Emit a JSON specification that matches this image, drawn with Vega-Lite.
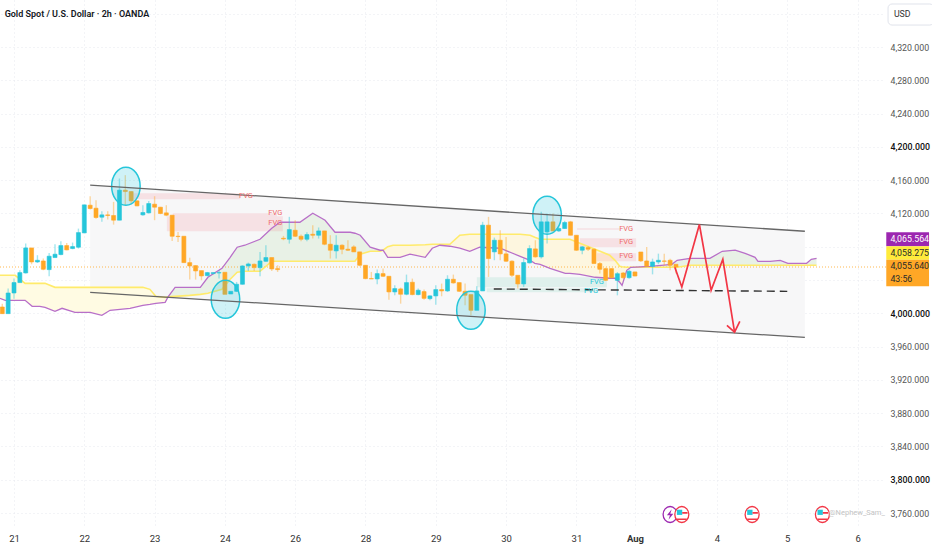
{
  "$schema": "https://vega.github.io/schema/vega-lite/v6.json",
  "width": 882,
  "height": 525,
  "autosize": {"type": "none"},
  "padding": {"left": 0, "top": 0, "right": 50, "bottom": 25},
  "background": "#ffffff",
  "view": {"stroke": null},
  "config": {"font": "Roboto"},
  "resolve": {"scale": {"color": "independent"}},
  "datasets": {
    "channelFill": [
      {"i": 13, "v": 4154, "v2": 4025.2},
      {"i": 135, "v": 4098.6, "v2": 3971.1}
    ],
    "channelLines": [
      {"i": 13, "v": 4154, "line": "top"},
      {"i": 135, "v": 4098.6, "line": "top"},
      {"i": 13, "v": 4025.2, "line": "bottom"},
      {"i": 135, "v": 3971.1, "line": "bottom"}
    ],
    "dashed": [
      {"i": 81.9, "v": 4029.2},
      {"i": 132, "v": 4026.4}
    ],
    "cloud": [
      {"i": -2.4, "v": 4018, "v2": 4045.7, "seg": "y1"},
      {"i": -1.5, "v": 4015.6, "v2": 4045.7, "seg": "y1"},
      {"i": 0.2, "v": 4015.6, "v2": 4045.7, "seg": "y1"},
      {"i": 1.9, "v": 4015.6, "v2": 4036, "seg": "y1"},
      {"i": 3.1, "v": 4008.4, "v2": 4036, "seg": "y1"},
      {"i": 4.4, "v": 4008.4, "v2": 4036, "seg": "y1"},
      {"i": 5.3, "v": 4007.2, "v2": 4036, "seg": "y1"},
      {"i": 7, "v": 4002.4, "v2": 4031.2, "seg": "y1"},
      {"i": 8.2, "v": 4006, "v2": 4031.2, "seg": "y1"},
      {"i": 10.4, "v": 4001.2, "v2": 4031.2, "seg": "y1"},
      {"i": 13, "v": 4001.2, "v2": 4031.2, "seg": "y1"},
      {"i": 15, "v": 3997.6, "v2": 4031.2, "seg": "y1"},
      {"i": 16.4, "v": 4003.6, "v2": 4031.2, "seg": "y1"},
      {"i": 18.1, "v": 4004.8, "v2": 4031.2, "seg": "y1"},
      {"i": 19.8, "v": 4006, "v2": 4031.2, "seg": "y1"},
      {"i": 22, "v": 4009.6, "v2": 4031.2, "seg": "y1"},
      {"i": 23.2, "v": 4010.8, "v2": 4028.8, "seg": "y1"},
      {"i": 24.2, "v": 4012, "v2": 4020.4, "seg": "y1"},
      {"i": 25.8, "v": 4013.2, "v2": 4019.2, "seg": "y1"},
      {"i": 26.3, "v": 4019.8, "v2": 4019.8, "seg": "y1"},
      {"i": 26.3, "v": 4019.8, "v2": 4019.8, "seg": "g1"},
      {"i": 27.5, "v": 4031.2, "v2": 4020.4, "seg": "g1"},
      {"i": 30, "v": 4031.2, "v2": 4021.6, "seg": "g1"},
      {"i": 31.8, "v": 4031.2, "v2": 4022.8, "seg": "g1"},
      {"i": 33.1, "v": 4043.3, "v2": 4024, "seg": "g1"},
      {"i": 35.5, "v": 4054.1, "v2": 4028.8, "seg": "g1"},
      {"i": 36.9, "v": 4067.3, "v2": 4040.9, "seg": "g1"},
      {"i": 38.1, "v": 4079.4, "v2": 4049.3, "seg": "g1"},
      {"i": 39.4, "v": 4081.8, "v2": 4050.5, "seg": "g1"},
      {"i": 42, "v": 4089, "v2": 4050.5, "seg": "g1"},
      {"i": 44, "v": 4102.2, "v2": 4062.5, "seg": "g1"},
      {"i": 45.4, "v": 4109.4, "v2": 4062.5, "seg": "g1"},
      {"i": 48.8, "v": 4109.4, "v2": 4062.5, "seg": "g1"},
      {"i": 51, "v": 4120.3, "v2": 4062.5, "seg": "g1"},
      {"i": 53.1, "v": 4111.8, "v2": 4062.5, "seg": "g1"},
      {"i": 54.8, "v": 4097.4, "v2": 4062.5, "seg": "g1"},
      {"i": 57.4, "v": 4097.4, "v2": 4062.5, "seg": "g1"},
      {"i": 58.2, "v": 4096.2, "v2": 4062.5, "seg": "g1"},
      {"i": 59.1, "v": 4093.8, "v2": 4071, "seg": "g1"},
      {"i": 60.8, "v": 4079.4, "v2": 4074.5, "seg": "g1"},
      {"i": 62.5, "v": 4075.8, "v2": 4074.5, "seg": "g1"},
      {"i": 63, "v": 4075.8, "v2": 4075.8, "seg": "g1"},
      {"i": 63, "v": 4075.8, "v2": 4075.8, "seg": "y2"},
      {"i": 63.8, "v": 4067.3, "v2": 4080, "seg": "y2"},
      {"i": 64.7, "v": 4067.3, "v2": 4081.8, "seg": "y2"},
      {"i": 65.9, "v": 4067.3, "v2": 4081.8, "seg": "y2"},
      {"i": 67.6, "v": 4071, "v2": 4081.8, "seg": "y2"},
      {"i": 70.2, "v": 4067.3, "v2": 4082.4, "seg": "y2"},
      {"i": 71.4, "v": 4078.2, "v2": 4083, "seg": "y2"},
      {"i": 72.7, "v": 4081.8, "v2": 4083, "seg": "y2"},
      {"i": 74.4, "v": 4080.6, "v2": 4083, "seg": "y2"},
      {"i": 76.1, "v": 4078.2, "v2": 4093.8, "seg": "y2"},
      {"i": 77.8, "v": 4074.5, "v2": 4095, "seg": "y2"},
      {"i": 79.5, "v": 4079.4, "v2": 4095, "seg": "y2"},
      {"i": 83, "v": 4078.2, "v2": 4095, "seg": "y2"},
      {"i": 86.4, "v": 4068.5, "v2": 4095, "seg": "y2"},
      {"i": 88.1, "v": 4063.7, "v2": 4093.8, "seg": "y2"},
      {"i": 88.9, "v": 4060.1, "v2": 4091.4, "seg": "y2"},
      {"i": 89.8, "v": 4058.9, "v2": 4089, "seg": "y2"},
      {"i": 91.5, "v": 4054.1, "v2": 4089, "seg": "y2"},
      {"i": 94.1, "v": 4048.1, "v2": 4089, "seg": "y2"},
      {"i": 94.9, "v": 4048.1, "v2": 4089, "seg": "y2"},
      {"i": 96.6, "v": 4046.9, "v2": 4084.2, "seg": "y2"},
      {"i": 99.2, "v": 4043.3, "v2": 4077, "seg": "y2"},
      {"i": 101.7, "v": 4042.1, "v2": 4069.7, "seg": "y2"},
      {"i": 102.6, "v": 4042.1, "v2": 4063.7, "seg": "y2"},
      {"i": 103.4, "v": 4037.3, "v2": 4056.5, "seg": "y2"},
      {"i": 103.8, "v": 4033.6, "v2": 4055.9, "seg": "y2"},
      {"i": 104.6, "v": 4051.7, "v2": 4055.3, "seg": "y2"},
      {"i": 105.3, "v": 4055.3, "v2": 4055.3, "seg": "y2"},
      {"i": 105.3, "v": 4055.3, "v2": 4055.3, "seg": "g2"},
      {"i": 108.6, "v": 4056.5, "v2": 4055.3, "seg": "g2"},
      {"i": 112.3, "v": 4058.9, "v2": 4055.3, "seg": "g2"},
      {"i": 113.2, "v": 4063.7, "v2": 4055.3, "seg": "g2"},
      {"i": 115.4, "v": 4066.1, "v2": 4057.7, "seg": "g2"},
      {"i": 118.8, "v": 4066.1, "v2": 4057.7, "seg": "g2"},
      {"i": 120.9, "v": 4074.5, "v2": 4057.7, "seg": "g2"},
      {"i": 123.1, "v": 4075.8, "v2": 4057.7, "seg": "g2"},
      {"i": 124.8, "v": 4072.1, "v2": 4057.7, "seg": "g2"},
      {"i": 126.5, "v": 4067.3, "v2": 4057.7, "seg": "g2"},
      {"i": 127, "v": 4062.5, "v2": 4057.7, "seg": "g2"},
      {"i": 129.1, "v": 4062.5, "v2": 4057.7, "seg": "g2"},
      {"i": 130.8, "v": 4063.7, "v2": 4057.7, "seg": "g2"},
      {"i": 132.1, "v": 4060.1, "v2": 4057.7, "seg": "g2"},
      {"i": 135.3, "v": 4060.1, "v2": 4057.7, "seg": "g2"},
      {"i": 136.1, "v": 4064.9, "v2": 4057.7, "seg": "g2"},
      {"i": 137, "v": 4066.1, "v2": 4057.7, "seg": "g2"}
    ],
    "fvgRed": [
      {"i": 20.3, "i2": 38.6, "v": 4144.3, "v2": 4137.1},
      {"i": 27.1, "i2": 44.9, "v": 4120.3, "v2": 4116.6},
      {"i": 26.1, "i2": 45.9, "v": 4116.6, "v2": 4098.6},
      {"i": 96.1, "i2": 103.4, "v": 4102.2, "v2": 4100.4},
      {"i": 96.6, "i2": 106.2, "v": 4090.2, "v2": 4079.4},
      {"i": 99.5, "i2": 106.2, "v": 4072.2, "v2": 4062.5}
    ],
    "fvgTeal": [
      {"i": 79, "i2": 101.2, "v": 4043.3, "v2": 4031.2},
      {"i": 80.7, "i2": 99.5, "v": 4030, "v2": 4025.2}
    ],
    "fvgRedLabels": [
      {"i": 39.6, "v": 4140.7, "t": "FVG"},
      {"i": 44.6, "v": 4120.3, "t": "FVG"},
      {"i": 44.6, "v": 4108.2, "t": "FVG"},
      {"i": 104.5, "v": 4101, "t": "FVG"},
      {"i": 104.5, "v": 4085.4, "t": "FVG"},
      {"i": 104.5, "v": 4068.5, "t": "FVG"}
    ],
    "fvgTealLabels": [
      {"i": 99.5, "v": 4037.3, "t": "FVG"},
      {"i": 98.5, "v": 4026.4, "t": "FVG"}
    ],
    "candles": [
      {"i": -2, "o": 4007.6, "h": 4011.6, "l": 3999.6, "c": 3999.6},
      {"i": -1, "o": 3999.6, "h": 4029.7, "l": 3999.6, "c": 4024.4},
      {"i": 0, "o": 4024.4, "h": 4041.7, "l": 4017.6, "c": 4036.9},
      {"i": 1, "o": 4036.9, "h": 4051.7, "l": 4036.9, "c": 4048.9},
      {"i": 2, "o": 4048.5, "h": 4083.8, "l": 4047.7, "c": 4078.6},
      {"i": 3, "o": 4078.6, "h": 4078.6, "l": 4058.9, "c": 4061.7},
      {"i": 4, "o": 4061.7, "h": 4069.8, "l": 4060.5, "c": 4063.7},
      {"i": 5, "o": 4062.9, "h": 4065.8, "l": 4051.7, "c": 4052.9},
      {"i": 6, "o": 4052.5, "h": 4072.6, "l": 4044.5, "c": 4068.6},
      {"i": 7, "o": 4067, "h": 4083, "l": 4067, "c": 4071},
      {"i": 8, "o": 4070.6, "h": 4086.6, "l": 4069.8, "c": 4081.4},
      {"i": 9, "o": 4081.4, "h": 4084.6, "l": 4075.8, "c": 4076.2},
      {"i": 10, "o": 4077.8, "h": 4085, "l": 4077, "c": 4080.2},
      {"i": 11, "o": 4079.4, "h": 4101.8, "l": 4077.8, "c": 4097},
      {"i": 12, "o": 4096.6, "h": 4130.3, "l": 4096.6, "c": 4130.3},
      {"i": 13, "o": 4129.9, "h": 4140.7, "l": 4124.7, "c": 4125.9},
      {"i": 14, "o": 4126.3, "h": 4135.9, "l": 4113.5, "c": 4115.1},
      {"i": 15, "o": 4115.5, "h": 4122.7, "l": 4109.9, "c": 4118.3},
      {"i": 16, "o": 4118.3, "h": 4122.7, "l": 4112.7, "c": 4117.5},
      {"i": 17, "o": 4117.5, "h": 4133.9, "l": 4106.6, "c": 4111.9},
      {"i": 18, "o": 4111.9, "h": 4162, "l": 4111.9, "c": 4148},
      {"i": 19, "o": 4148, "h": 4166, "l": 4129.9, "c": 4146.3},
      {"i": 20, "o": 4146.3, "h": 4147.1, "l": 4131.9, "c": 4135.1},
      {"i": 21, "o": 4135.1, "h": 4135.9, "l": 4128.7, "c": 4129.1},
      {"i": 22, "o": 4118.3, "h": 4129.9, "l": 4117.1, "c": 4121.1},
      {"i": 23, "o": 4120.7, "h": 4135.1, "l": 4119.9, "c": 4131.9},
      {"i": 24, "o": 4131.1, "h": 4140.7, "l": 4111.9, "c": 4127.5},
      {"i": 25, "o": 4127.5, "h": 4127.9, "l": 4119.1, "c": 4119.9},
      {"i": 26, "o": 4120.7, "h": 4129.9, "l": 4116.7, "c": 4117.9},
      {"i": 27, "o": 4117.9, "h": 4117.9, "l": 4087, "c": 4092.6},
      {"i": 28, "o": 4092.6, "h": 4097.8, "l": 4085.8, "c": 4092.2},
      {"i": 29, "o": 4092.6, "h": 4092.6, "l": 4060.5, "c": 4060.9},
      {"i": 30, "o": 4060.9, "h": 4066.9, "l": 4040.5, "c": 4056.9},
      {"i": 31, "o": 4057.3, "h": 4057.7, "l": 4040.5, "c": 4050.9},
      {"i": 32, "o": 4051.3, "h": 4051.3, "l": 4039.7, "c": 4044.9},
      {"i": 33, "o": 4045.3, "h": 4049.7, "l": 4044.5, "c": 4048.9},
      {"i": 34, "o": 4047.7, "h": 4049.3, "l": 4046.9, "c": 4048.9},
      {"i": 35, "o": 4048.5, "h": 4051.7, "l": 4041.7, "c": 4048.9},
      {"i": 36, "o": 4049.3, "h": 4049.3, "l": 4022.8, "c": 4022.8},
      {"i": 37, "o": 4023.2, "h": 4026.4, "l": 4023.2, "c": 4026.4},
      {"i": 38, "o": 4026.4, "h": 4037.7, "l": 4025.6, "c": 4034.9},
      {"i": 39, "o": 4034.9, "h": 4057.7, "l": 4034.5, "c": 4056.9},
      {"i": 40, "o": 4056.9, "h": 4060.9, "l": 4050.9, "c": 4059.3},
      {"i": 41, "o": 4058.9, "h": 4059.7, "l": 4050.9, "c": 4054.9},
      {"i": 42, "o": 4054.9, "h": 4073.8, "l": 4044.5, "c": 4062.9},
      {"i": 43, "o": 4062.5, "h": 4081.8, "l": 4061.7, "c": 4067},
      {"i": 44, "o": 4067, "h": 4067, "l": 4050.9, "c": 4053.3},
      {"i": 45, "o": 4053.7, "h": 4057.7, "l": 4049.7, "c": 4052.5},
      {"i": 46, "o": 4090.2, "h": 4093, "l": 4087.8, "c": 4089.4},
      {"i": 47, "o": 4089, "h": 4115.9, "l": 4083.8, "c": 4100.6},
      {"i": 48, "o": 4099.8, "h": 4111.9, "l": 4091.8, "c": 4092.6},
      {"i": 49, "o": 4092.6, "h": 4094.6, "l": 4086.6, "c": 4089},
      {"i": 50, "o": 4089, "h": 4097.4, "l": 4086.6, "c": 4094.6},
      {"i": 51, "o": 4095, "h": 4105.9, "l": 4089.8, "c": 4093.8},
      {"i": 52, "o": 4093.8, "h": 4103.1, "l": 4089.8, "c": 4099},
      {"i": 53, "o": 4099, "h": 4099, "l": 4081.8, "c": 4083},
      {"i": 54, "o": 4083, "h": 4093.8, "l": 4065.8, "c": 4075.8},
      {"i": 55, "o": 4075, "h": 4093.8, "l": 4065.8, "c": 4081.8},
      {"i": 56, "o": 4081.8, "h": 4083, "l": 4071, "c": 4077},
      {"i": 57, "o": 4077, "h": 4087.8, "l": 4075, "c": 4075.8},
      {"i": 58, "o": 4079.8, "h": 4081.8, "l": 4073.8, "c": 4073.8},
      {"i": 59, "o": 4073.8, "h": 4073.8, "l": 4056.5, "c": 4057.7},
      {"i": 60, "o": 4057.7, "h": 4057.7, "l": 4040.9, "c": 4041.7},
      {"i": 61, "o": 4041.7, "h": 4049.7, "l": 4041.3, "c": 4041.3},
      {"i": 62, "o": 4041.3, "h": 4052.5, "l": 4034.9, "c": 4047.7},
      {"i": 63, "o": 4047.7, "h": 4053.7, "l": 4043.7, "c": 4044.5},
      {"i": 64, "o": 4044.5, "h": 4044.5, "l": 4016.4, "c": 4025.7},
      {"i": 65, "o": 4025.7, "h": 4033.7, "l": 4021.7, "c": 4029.7},
      {"i": 66, "o": 4029.3, "h": 4030.9, "l": 4011.6, "c": 4022.9},
      {"i": 67, "o": 4022.9, "h": 4046.5, "l": 4021.7, "c": 4036.9},
      {"i": 68, "o": 4037.3, "h": 4041.7, "l": 4021.7, "c": 4022.5},
      {"i": 69, "o": 4022.5, "h": 4029.7, "l": 4021.7, "c": 4027.7},
      {"i": 70, "o": 4026.1, "h": 4028.5, "l": 4016.4, "c": 4018},
      {"i": 71, "o": 4017.6, "h": 4021.7, "l": 4015.6, "c": 4020.9},
      {"i": 72, "o": 4020.9, "h": 4033.7, "l": 4010.4, "c": 4028.5},
      {"i": 73, "o": 4028.5, "h": 4035.7, "l": 4020.5, "c": 4026.9},
      {"i": 74, "o": 4026.9, "h": 4045.7, "l": 4025.7, "c": 4040.9},
      {"i": 75, "o": 4040.9, "h": 4046.5, "l": 4035.7, "c": 4036.5},
      {"i": 76, "o": 4036.9, "h": 4036.9, "l": 4025.7, "c": 4026.5},
      {"i": 77, "o": 4026.5, "h": 4035.7, "l": 4009.6, "c": 4021.7},
      {"i": 78, "o": 4022.5, "h": 4022.5, "l": 3997.6, "c": 4003.6},
      {"i": 79, "o": 4003.6, "h": 4032.5, "l": 4003.6, "c": 4026.9},
      {"i": 80, "o": 4026.9, "h": 4109.9, "l": 4026.9, "c": 4105.9},
      {"i": 81, "o": 4105.9, "h": 4115.9, "l": 4043.7, "c": 4065.8},
      {"i": 82, "o": 4073.8, "h": 4091, "l": 4063.8, "c": 4087.8},
      {"i": 83, "o": 4087.8, "h": 4099.9, "l": 4063.8, "c": 4071.4},
      {"i": 84, "o": 4071.4, "h": 4091.8, "l": 4061.8, "c": 4062.6},
      {"i": 85, "o": 4062.6, "h": 4063.8, "l": 4043.7, "c": 4045.7},
      {"i": 86, "o": 4045.7, "h": 4045.7, "l": 4029.7, "c": 4035.3},
      {"i": 87, "o": 4035.3, "h": 4065.8, "l": 4031.7, "c": 4061},
      {"i": 88, "o": 4060.6, "h": 4081.8, "l": 4059.8, "c": 4077.8},
      {"i": 89, "o": 4077.4, "h": 4087.8, "l": 4067, "c": 4067.8},
      {"i": 90, "o": 4067.8, "h": 4121.9, "l": 4065.8, "c": 4109.9},
      {"i": 91, "o": 4097.8, "h": 4119.9, "l": 4083.8, "c": 4109.9},
      {"i": 92, "o": 4109.9, "h": 4119.9, "l": 4098.6, "c": 4099},
      {"i": 93, "o": 4099, "h": 4103.9, "l": 4097.8, "c": 4101.9},
      {"i": 94, "o": 4101.9, "h": 4111.1, "l": 4101.5, "c": 4109.1},
      {"i": 95, "o": 4109.9, "h": 4111.1, "l": 4093.8, "c": 4093.8},
      {"i": 96, "o": 4093.8, "h": 4093.8, "l": 4075, "c": 4075.8},
      {"i": 97, "o": 4075.8, "h": 4081, "l": 4071, "c": 4079.8},
      {"i": 98, "o": 4079, "h": 4081, "l": 4075, "c": 4077},
      {"i": 99, "o": 4077, "h": 4077.8, "l": 4059.8, "c": 4059.8},
      {"i": 100, "o": 4059.8, "h": 4061.8, "l": 4047.7, "c": 4052.9},
      {"i": 101, "o": 4053.7, "h": 4054.9, "l": 4038.9, "c": 4039.7},
      {"i": 102, "o": 4053.7, "h": 4054, "l": 4041.6, "c": 4042.8},
      {"i": 103, "o": 4039.6, "h": 4049.6, "l": 4021.6, "c": 4047.6},
      {"i": 104, "o": 4048.4, "h": 4049.6, "l": 4041.6, "c": 4042.8},
      {"i": 105, "o": 4042.8, "h": 4052.5, "l": 4041.6, "c": 4050.5},
      {"i": 106, "o": 4049.7, "h": 4050, "l": 4044.4, "c": 4044.8},
      {"i": 107, "o": 4073.7, "h": 4073.7, "l": 4061.7, "c": 4063},
      {"i": 108, "o": 4062.9, "h": 4079.7, "l": 4056.5, "c": 4056.5},
      {"i": 109, "o": 4056.5, "h": 4065.7, "l": 4046.8, "c": 4061.7},
      {"i": 110, "o": 4061.7, "h": 4071.7, "l": 4058.9, "c": 4063.7},
      {"i": 111, "o": 4062.9, "h": 4071.7, "l": 4057.7, "c": 4062.5},
      {"i": 112, "o": 4063.7, "h": 4065.7, "l": 4051.7, "c": 4057.7},
      {"i": 113, "o": 4058.9, "h": 4058.9, "l": 4047.7, "c": 4055.7}
    ],
    "circles": [
      {"i": 19.1, "v": 4152.7},
      {"i": 36.1, "v": 4016.8},
      {"i": 78, "v": 4003.6},
      {"i": 91, "v": 4117.9}
    ],
    "zigzag": [
      {"i": 112.8, "v": 4055.3, "n": 1, "part": "path"},
      {"i": 114, "v": 4031.6, "n": 2, "part": "path"},
      {"i": 117, "v": 4106.7, "n": 3, "part": "path"},
      {"i": 119, "v": 4027.6, "n": 4, "part": "path"},
      {"i": 121, "v": 4064.9, "n": 5, "part": "path"},
      {"i": 123, "v": 3977.5, "n": 6, "part": "path"},
      {"i": 121.7, "v": 3985.5, "n": 1, "part": "head"},
      {"i": 123, "v": 3977.5, "n": 2, "part": "head"},
      {"i": 123.9, "v": 3990.3, "n": 3, "part": "head"}
    ],
    "icons": [
      {"i": 112, "v": 3758.2, "kind": "bolt"},
      {"i": 114, "v": 3758.2, "kind": "flag"},
      {"i": 126, "v": 3758.2, "kind": "flag"},
      {"i": 138, "v": 3758.2, "kind": "flag"}
    ],
    "tags": [
      {"i": 148.9, "i2": 156.2, "v": 4097.4, "v2": 4080.6, "tag": "study"},
      {"i": 148.9, "i2": 156.2, "v": 4080.6, "v2": 4064.3, "tag": "base"},
      {"i": 148.9, "i2": 156.2, "v": 4064.3, "v2": 4032.4, "tag": "last"}
    ],
    "tagText": [
      {"i": 149.6, "v": 4089, "t": "4,065.564", "tone": "light"},
      {"i": 149.6, "v": 4072.7, "t": "4,058.275", "tone": "dark"},
      {"i": 149.6, "v": 4056.5, "t": "4,055.640", "tone": "dark"},
      {"i": 149.6, "v": 4040.9, "t": "43:56", "tone": "dark"}
    ]
  },
  "encoding": {
    "x": {
      "field": "i",
      "type": "quantitative",
      "scale": {"domain": [-2.39, 148.17], "nice": false, "zero": false, "padding": 0},
      "axis": {
        "title": null,
        "values": [0, 12, 24, 36, 48, 60, 72, 84, 96, 106, 120, 132, 144],
        "labelExpr": "datum.value==106 ? 'Aug' : ['21','22','23','24','26','28','29','30','31','','4','5','6'][datum.value/12]",
        "labelFontWeight": {"expr": "datum.value==106 ? 'bold' : 'normal'"},
        "labelColor": "#333333",
        "labelFontSize": 9.5,
        "labelPadding": 8,
        "labelFlush": false,
        "domain": false,
        "ticks": false,
        "grid": true,
        "gridColor": "#e6e8ee",
        "gridDash": [1, 3]
      }
    },
    "y": {
      "field": "v",
      "type": "quantitative",
      "scale": {"domain": [3745.6, 4376.5], "nice": false, "zero": false, "padding": 0},
      "axis": {
        "title": null,
        "orient": "right",
        "values": [3760, 3800, 3840, 3880, 3920, 3960, 4000, 4040, 4080, 4120, 4160, 4200, 4240, 4280, 4320, 4360],
        "labelExpr": "(datum.value==4040 || datum.value==4080 || datum.value==4360) ? '' : format(datum.value, ',.3f')",
        "labelColor": {"expr": "datum.value % 200 == 0 ? '#111111' : '#555555'"},
        "labelFontWeight": {"expr": "datum.value % 200 == 0 ? 500 : 400"},
        "labelFont": "Roboto",
        "labelFontSize": 8.8,
        "labelPadding": 8,
        "labelFlush": false,
        "domain": false,
        "ticks": false,
        "grid": true,
        "gridColor": "#e6e8ee",
        "gridDash": [1, 3]
      }
    }
  },
  "layer": [
    {
      "data": {"name": "channelFill"},
      "mark": {"type": "area", "color": "#f7f7f8"},
      "encoding": {"y2": {"field": "v2"}}
    },
    {
      "data": {"name": "cloud"},
      "mark": {"type": "area", "opacity": 1},
      "encoding": {
        "y2": {"field": "v2"},
        "detail": {"field": "seg"},
        "color": {
          "field": "seg",
          "type": "nominal",
          "legend": null,
          "scale": {"domain": ["y1", "g1", "y2", "g2"], "range": ["#fffbe3", "#e8f1e6", "#fdf6df", "#e8f1e6"]}
        }
      }
    },
    {
      "data": {"name": "fvgRed"},
      "mark": {"type": "rect", "color": "#f23645", "opacity": 0.11},
      "encoding": {"x2": {"field": "i2"}, "y2": {"field": "v2"}}
    },
    {
      "data": {"name": "fvgTeal"},
      "mark": {"type": "rect", "color": "#3fbf9a", "opacity": 0.13},
      "encoding": {"x2": {"field": "i2"}, "y2": {"field": "v2"}}
    },
    {
      "data": {"values": [{"i": -2.39, "i2": 148.9, "v": 4055.64}]},
      "mark": {"type": "rule", "color": "#ffa726", "strokeDash": [1, 2], "strokeWidth": 1, "opacity": 0.8},
      "encoding": {"x2": {"field": "i2"}}
    },
    {
      "data": {"name": "cloud"},
      "mark": {"type": "line", "color": "#ffeb6b", "strokeWidth": 1.6},
      "encoding": {"y": {"field": "v2", "type": "quantitative", "title": null}}
    },
    {
      "data": {"name": "cloud"},
      "mark": {"type": "line", "color": "#b86fc8", "strokeWidth": 1.3}
    },
    {
      "data": {"name": "candles"},
      "mark": {"type": "rule", "strokeWidth": 1.4, "opacity": 0.42},
      "encoding": {
        "y": {"field": "l", "type": "quantitative", "title": null},
        "y2": {"field": "h"},
        "color": {"condition": {"test": "datum.c >= datum.o", "value": "#26c6da"}, "value": "#ffa726"}
      }
    },
    {
      "data": {"name": "candles"},
      "mark": {"type": "bar", "size": 4, "strokeWidth": 0.6},
      "encoding": {
        "y": {"field": "o", "type": "quantitative", "title": null},
        "y2": {"field": "c"},
        "color": {"condition": {"test": "datum.c >= datum.o", "value": "#26c6da"}, "value": "#ffa726"},
        "stroke": {"condition": {"test": "datum.c >= datum.o", "value": "#26c6da"}, "value": "#ffa726"}
      }
    },
    {
      "data": {"name": "circles"},
      "mark": {
        "type": "point",
        "shape": "M-0.75,0A0.75,1,0,1,0,0.75,0A0.75,1,0,1,0,-0.75,0Z",
        "size": 1444,
        "filled": false,
        "fill": "#26c6da",
        "fillOpacity": 0.22,
        "stroke": "#26c6da",
        "strokeOpacity": 1,
        "strokeWidth": 1.5,
        "opacity": 1
      }
    },
    {
      "data": {"name": "channelLines"},
      "mark": {"type": "line", "color": "#666666", "strokeWidth": 1.3},
      "encoding": {"detail": {"field": "line"}}
    },
    {
      "data": {"name": "dashed"},
      "mark": {"type": "line", "color": "#333333", "strokeWidth": 1.4, "strokeDash": [8, 5]}
    },
    {
      "data": {"name": "zigzag"},
      "mark": {"type": "line", "color": "#f23645", "strokeWidth": 1.7},
      "encoding": {"detail": {"field": "part"}, "order": {"field": "n"}}
    },
    {
      "data": {"name": "fvgRedLabels"},
      "mark": {"type": "text", "color": "#ef6a6a", "fontSize": 7.5, "font": "Roboto"},
      "encoding": {"text": {"field": "t"}}
    },
    {
      "data": {"name": "fvgTealLabels"},
      "mark": {"type": "text", "color": "#26c6da", "fontSize": 7.5, "font": "Roboto"},
      "encoding": {"text": {"field": "t"}}
    },
    {
      "data": {"name": "icons"},
      "mark": {
        "type": "point",
        "shape": "M-0.875,0A0.875,1,0,1,0,0.875,0A0.875,1,0,1,0,-0.875,0Z",
        "size": 256,
        "filled": false,
        "fill": "#ffffff",
        "strokeWidth": 1.3,
        "opacity": 1
      },
      "encoding": {
        "stroke": {"condition": {"test": "datum.kind == 'bolt'", "value": "#9c27b0"}, "value": "#f23645"}
      }
    },
    {
      "data": {"name": "icons"},
      "transform": [{"filter": "datum.kind == 'bolt'"}],
      "mark": {
        "type": "point",
        "shape": "M0.2,-0.65L-0.4,0.1H-0.02L-0.2,0.65L0.4,-0.1H0.02Z",
        "size": 256,
        "filled": true,
        "color": "#9c27b0",
        "opacity": 1
      }
    },
    {
      "data": {"name": "icons"},
      "transform": [{"filter": "datum.kind == 'flag'"}],
      "mark": {
        "type": "point",
        "shape": "M-0.62,-0.6H0.05V0.05H-0.62Z",
        "size": 256,
        "filled": true,
        "color": "#26c6da",
        "opacity": 1
      }
    },
    {
      "data": {"name": "icons"},
      "transform": [{"filter": "datum.kind == 'flag'"}],
      "mark": {
        "type": "point",
        "shape": "M0.05,-0.3H0.72V-0.08H0.05ZM-0.62,0.5H0.62V0.68H-0.62Z",
        "size": 256,
        "filled": true,
        "color": "#f23645",
        "opacity": 1
      }
    },
    {
      "data": {"values": [{"i": 139.1, "v": 3760.6, "t": "@Nephew_Sam_"}]},
      "mark": {"type": "text", "color": "#c4c4c4", "fontSize": 7.5, "align": "left", "font": "Roboto"},
      "encoding": {"text": {"field": "t"}}
    },
    {
      "data": {"values": [{"i": -1.6, "v": 4359.7, "t": "Gold Spot / U.S. Dollar · 2h · OANDA"}]},
      "mark": {"type": "text", "color": "#131722", "fontSize": 9, "fontWeight": 600, "align": "left", "font": "Roboto"},
      "encoding": {"text": {"field": "t"}}
    },
    {
      "data": {"values": [{"i": 149.2, "i2": 157, "v": 4371.7, "v2": 4346.4}]},
      "mark": {"type": "rect", "fill": "#ffffff", "stroke": "#e0e3eb", "cornerRadius": 4},
      "encoding": {"x2": {"field": "i2"}, "y2": {"field": "v2"}}
    },
    {
      "data": {"values": [{"i": 150.2, "v": 4359.7, "t": "USD"}]},
      "mark": {"type": "text", "color": "#333333", "fontSize": 8.8, "align": "left", "font": "Roboto"},
      "encoding": {"text": {"field": "t"}}
    },
    {
      "data": {"name": "tags"},
      "mark": {"type": "rect", "opacity": 1},
      "encoding": {
        "x2": {"field": "i2"},
        "y2": {"field": "v2"},
        "color": {
          "field": "tag",
          "type": "nominal",
          "legend": null,
          "scale": {"domain": ["study", "base", "last"], "range": ["#9c27b0", "#ffeb3b", "#ffa726"]}
        }
      }
    },
    {
      "data": {"name": "tagText"},
      "mark": {"type": "text", "fontSize": 8.8, "align": "left", "font": "Roboto"},
      "encoding": {
        "text": {"field": "t"},
        "color": {"condition": {"test": "datum.tone == 'light'", "value": "#ffffff"}, "value": "#2a2a2a"}
      }
    }
  ]
}
